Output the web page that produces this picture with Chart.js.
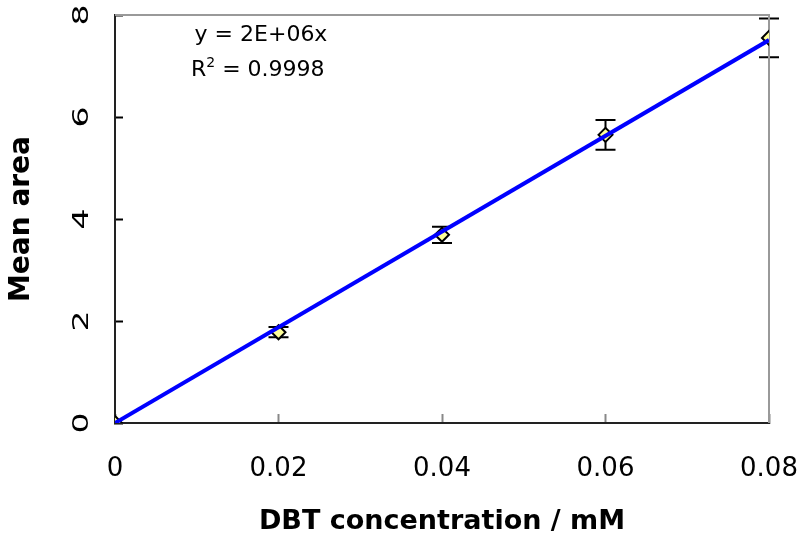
<!DOCTYPE html>
<html>
<head>
<meta charset="utf-8">
<script src="https://cdn.jsdelivr.net/npm/chart.js@4/dist/chart.umd.min.js"></script>
<style>
  html, body { margin: 0; padding: 0; background: #ffffff; }
  #wrap { width: 805px; height: 535px; }
</style>
</head>
<body>
<div id="wrap"><canvas id="chart" width="805" height="535"></canvas></div>
<script>
// Calibration data: DBT concentration (mM) vs mean peak area
const concentration = [0, 0.02, 0.04, 0.06, 0.08];
const meanArea      = [0, 1.78, 3.69, 5.65, 7.55];
const areaError     = [0, 0.10, 0.16, 0.29, 0.38];

const xTickValues = [0, 0.02, 0.04, 0.06, 0.08];
const yTickValues = [0, 2, 4, 6, 8];

const xTitle = 'DBT concentration / mM';
const yTitle = 'Mean area';
const equationText = 'y = 2E+06x';
const rSquaredValue = '0.9998';

const FONT = '"DejaVu Sans", sans-serif';

// Least-squares line through the origin
const slope = concentration.reduce((s, x, i) => s + x * meanArea[i], 0) /
              concentration.reduce((s, x) => s + x * x, 0);
const xMax = xTickValues[xTickValues.length - 1];

const points = concentration.map((x, i) => ({ x: x, y: meanArea[i] }));
const fitLine = [{ x: 0, y: 0 }, { x: xMax, y: slope * xMax }];

// Vertical error bars with caps, drawn beneath the markers
const errorBarPlugin = {
  id: 'errorBars',
  beforeDatasetsDraw(chart) {
    const { ctx, scales: { x, y } } = chart;
    ctx.save();
    ctx.strokeStyle = '#000000';
    ctx.lineWidth = 2;
    concentration.forEach((c, i) => {
      if (!areaError[i]) return;
      const px = x.getPixelForValue(c);
      const top = y.getPixelForValue(meanArea[i] + areaError[i]);
      const bot = y.getPixelForValue(meanArea[i] - areaError[i]);
      ctx.beginPath();
      ctx.moveTo(px, top); ctx.lineTo(px, bot);
      ctx.moveTo(px - 10, top); ctx.lineTo(px + 10, top);
      ctx.moveTo(px - 10, bot); ctx.lineTo(px + 10, bot);
      ctx.stroke();
    });
    ctx.restore();
  }
};

// Grey top and right edges of the plot frame
const framePlugin = {
  id: 'frame',
  beforeDatasetsDraw(chart) {
    const { ctx, chartArea: a } = chart;
    ctx.save();
    ctx.strokeStyle = '#999999';
    ctx.lineWidth = 2;
    ctx.beginPath();
    ctx.moveTo(a.left, a.top);
    ctx.lineTo(a.right, a.top);
    ctx.lineTo(a.right, a.bottom);
    ctx.stroke();
    ctx.restore();
  }
};

// Y tick labels: turned to read upwards, with wide glyphs
const yLabelPlugin = {
  id: 'yLabels',
  afterDraw(chart) {
    const { ctx } = chart;
    const scale = chart.scales.y;
    ctx.save();
    ctx.fillStyle = '#000000';
    ctx.font = '22px ' + FONT;
    ctx.textAlign = 'center';
    ctx.textBaseline = 'middle';
    scale.ticks.forEach((t, i) => {
      const py = scale.getPixelForValue(t.value);
      ctx.save();
      ctx.translate(scale.right - 33, py);
      ctx.rotate(-Math.PI / 2);
      ctx.scale(1.5, 1);
      ctx.fillText(String(yTickValues[i]), 0, 0);
      ctx.restore();
    });
    ctx.restore();
  }
};

// Trendline equation and R² in the upper left of the plot
const equationPlugin = {
  id: 'equation',
  afterDraw(chart) {
    const { ctx } = chart;
    ctx.save();
    ctx.fillStyle = '#000000';
    ctx.textBaseline = 'alphabetic';
    ctx.font = '22px ' + FONT;
    ctx.textAlign = 'center';
    ctx.fillText(equationText, 261, 41);
    ctx.textAlign = 'left';
    let x = 191;
    ctx.fillText('R', x, 76);
    x += ctx.measureText('R').width;
    ctx.font = '14px ' + FONT;
    ctx.fillText('2', x, 67);
    x += ctx.measureText('2').width;
    ctx.font = '22px ' + FONT;
    ctx.fillText(' = ' + rSquaredValue, x, 76);
    ctx.restore();
  }
};

new Chart(document.getElementById('chart'), {
  type: 'scatter',
  data: {
    datasets: [
      {
        label: 'Linear fit',
        data: fitLine,
        showLine: true,
        borderColor: '#0000ff',
        borderWidth: 4,
        pointRadius: 0,
        fill: false,
        order: 0
      },
      {
        label: 'Mean area',
        data: points,
        pointStyle: 'rectRot',
        pointRadius: 7,
        pointBackgroundColor: '#ffff99',
        pointBorderColor: '#000000',
        pointBorderWidth: 2,
        order: 1
      }
    ]
  },
  options: {
    responsive: false,
    devicePixelRatio: 1,
    animation: false,
    layout: { padding: { left: 0, right: 36, top: 15, bottom: 0 } },
    plugins: { legend: { display: false }, tooltip: { enabled: false } },
    scales: {
      x: {
        type: 'linear',
        min: 0,
        max: xMax,
        afterBuildTicks: (s) => { s.ticks = xTickValues.map(v => ({ value: v })); },
        afterFit: (s) => { s.height = 112; s.paddingLeft = 0; s.paddingRight = 0; },
        ticks: {
          color: '#000000',
          font: { family: FONT, size: 26 },
          padding: 40,
          maxRotation: 0,
          callback: (v, i) => String(xTickValues[i])
        },
        grid: {
          drawOnChartArea: false,
          drawTicks: true,
          tickLength: -9,
          tickColor: '#888888',
          tickWidth: 2
        },
        border: { color: '#222222', width: 2 },
        title: {
          display: true,
          text: xTitle,
          color: '#000000',
          font: { family: FONT, size: 27, weight: 'bold', lineHeight: 1 },
          padding: { top: 0, bottom: 0 }
        }
      },
      y: {
        type: 'linear',
        min: 0,
        max: 8,
        afterBuildTicks: (s) => { s.ticks = yTickValues.map(v => ({ value: v })); },
        afterFit: (s) => { s.width = 115; s.paddingTop = 0; s.paddingBottom = 0; },
        ticks: { display: false },
        grid: {
          drawOnChartArea: false,
          drawTicks: true,
          tickLength: -8,
          tickColor: '#000000',
          tickWidth: 2
        },
        border: { color: '#222222', width: 2 },
        title: {
          display: true,
          text: yTitle,
          color: '#000000',
          font: { family: FONT, size: 28, weight: 'bold', lineHeight: 1.2 },
          padding: { top: 5, bottom: 0 }
        }
      }
    }
  },
  plugins: [errorBarPlugin, framePlugin, yLabelPlugin, equationPlugin]
});
</script>
</body>
</html>
